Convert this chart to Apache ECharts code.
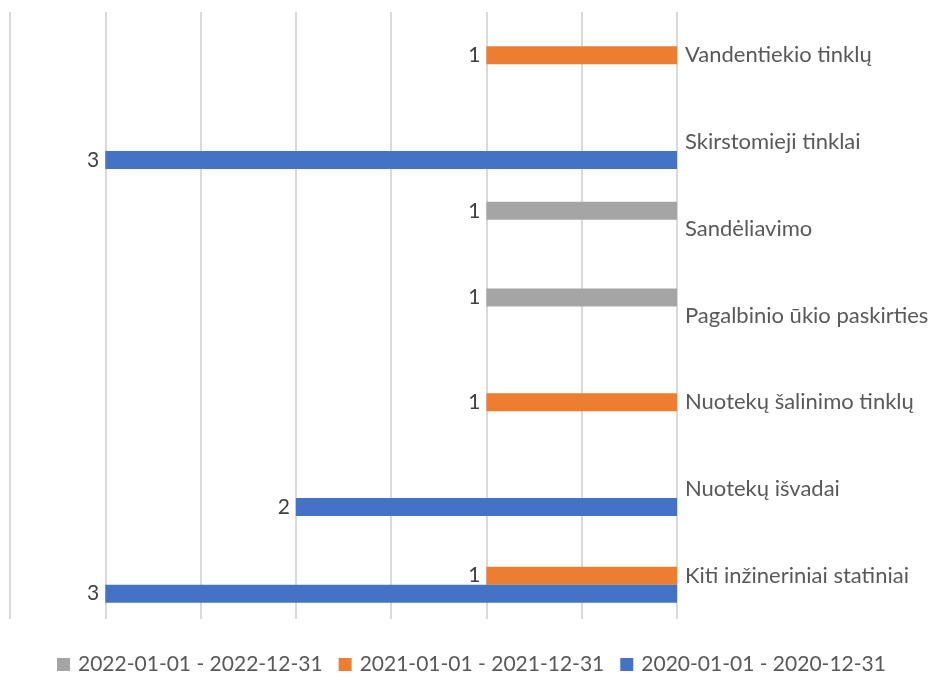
<!DOCTYPE html>
<html>
<head>
<meta charset="utf-8">
<script src="https://cdn.jsdelivr.net/npm/echarts@6/dist/echarts.min.js"></script>
<style>html,body{margin:0;padding:0;background:#fff;}#c{width:932px;height:673px;}</style>
</head>
<body>
<div id="c"></div>
<script>
const categories = ['Vandentiekio tinklų', 'Skirstomieji tinklai', 'Sandėliavimo', 'Pagalbinio ūkio paskirties', 'Nuotekų šalinimo tinklų', 'Nuotekų išvadai', 'Kiti inžineriniai statiniai'];
const seriesNames = ['2022-01-01 - 2022-12-31', '2021-01-01 - 2021-12-31', '2020-01-01 - 2020-12-31'];
const values2022 = [null, null, 1, 1, null, null, null];
const values2021 = [1, null, null, null, 1, null, 1];
const values2020 = [null, 3, null, null, null, 2, 3];
const colors = ['#A5A5A5', '#ED7D31', '#4472C4'];

const chart = echarts.init(document.getElementById('c'), null, {renderer: 'canvas'});
const font = 'Lato, "Carlito", "Noto Sans", sans-serif';
function mk(name, data, color) {
  return {
    name: name, type: 'bar', data: data, barWidth: 18, barGap: '0%',
    itemStyle: {color: color},
    label: {show: true, position: 'left', distance: 6, fontSize: 21, color: '#404040', fontFamily: font},
    emphasis: {disabled: true}
  };
}
chart.setOption({
  animation: false,
  textStyle: {fontFamily: font},
  grid: {left: 10, right: 255, top: 12, bottom: 54, containLabel: false},
  legend: {
    top: 649, left: 52, icon: 'rect', itemWidth: 13, itemHeight: 13, itemGap: 16,
    textStyle: {fontSize: 21, color: '#595959', fontFamily: font, padding: [0, 0, 0, 3]},
    data: seriesNames
  },
  xAxis: {
    type: 'value', inverse: true, min: 0, max: 3.5, interval: 0.5,
    axisLabel: {show: false}, axisLine: {show: false}, axisTick: {show: false},
    splitLine: {show: true, lineStyle: {color: '#D9D9D9', width: 2}}
  },
  yAxis: {
    type: 'category', data: categories, inverse: true, position: 'right',
    axisLine: {show: false}, axisTick: {show: false},
    axisLabel: {margin: 8, fontSize: 22, color: '#595959', fontFamily: font}
  },
  series: [mk(seriesNames[0], values2022, colors[0]), mk(seriesNames[1], values2021, colors[1]), mk(seriesNames[2], values2020, colors[2])]
});
</script>
</body>
</html>
